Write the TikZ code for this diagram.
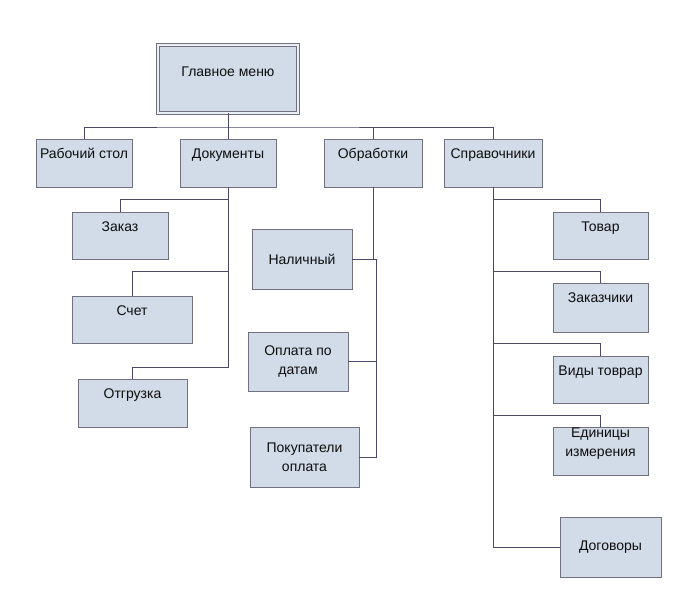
\documentclass[tikz,border=0pt]{standalone}
\usepackage{fontspec}
\setmainfont{Liberation Sans}
\usetikzlibrary{positioning}
\definecolor{boxfill}{RGB}{209,220,232}
\definecolor{boxline}{RGB}{112,112,128}
\definecolor{wirecol}{RGB}{74,74,104}
\tikzset{every node/.style={font=\fontsize{14}{19}\selectfont, text=black!95},
  box/.style={draw=boxline, fill=boxfill, line width=0.9pt, inner sep=0pt, align=center},
  lbl/.style={anchor=base, inner sep=0pt, align=center},
  wire/.style={draw=wirecol, line width=1pt}}

\begin{document}
\begin{tikzpicture}[x=1pt,y=-1pt]
  \useasboundingbox (0,0) rectangle (685,606);
  % connection points
  \coordinate (bus)  at (228,127);
  \coordinate (rail) at (376,259);
  % top level
  \node[box, minimum width=140pt, minimum height=68pt, double=boxfill!45!white, double distance=2.4pt] (main) at (228,79) {};
  \node[lbl] (main-t) at ([yshift=-32pt]main.north) {Главное меню};
  \node[box, minimum width=96pt, minimum height=48pt] (rab) at (84,163) {};
  \node[box, minimum width=96pt, minimum height=48pt] (dok) at (228,163) {};
  \node[box, minimum width=98pt, minimum height=48pt] (obr) at (373,163) {};
  \node[box, minimum width=98pt, minimum height=48pt] (spr) at (493,163) {};
  \node[lbl] (rab-t) at ([yshift=-20pt]rab.north) {Рабочий стол};
  \node[lbl] (dok-t) at ([yshift=-20pt]dok.north) {Документы};
  \node[lbl] (obr-t) at ([yshift=-20pt]obr.north) {Обработки};
  \node[lbl] (spr-t) at ([yshift=-20pt]spr.north) {Справочники};
  % documents
  \node[box, minimum width=96pt, minimum height=47pt] (zakaz) at (120,235.5) {};
  \node[box, minimum width=120pt, minimum height=47pt] (schet) at (132,319.5) {};
  \node[box, minimum width=109pt, minimum height=48pt] (otgr) at (132.5,403) {};
  \node[lbl] (zakaz-t) at ([yshift=-20pt]zakaz.north) {Заказ};
  \node[lbl] (schet-t) at ([yshift=-20pt]schet.north) {Счет};
  \node[lbl] (otgr-t) at ([yshift=-20pt]otgr.north) {Отгрузка};
  % processing
  \node[box, minimum width=100pt, minimum height=60pt] (nal) at (302,259) {Наличный};
  \node[box, minimum width=100pt, minimum height=59pt] (opl) at (298,361.5) {Оплата по\\датам};
  \node[box, minimum width=109pt, minimum height=60pt] (pok) at (304.5,457) {Покупатели\\оплата};
  % reference books
  \node[box, minimum width=95pt, minimum height=47pt] (tov) at (600.5,235.5) {};
  \node[box, minimum width=95pt, minimum height=49pt] (zakch) at (600.5,307.5) {};
  \node[box, minimum width=95pt, minimum height=47pt] (vidy) at (600.5,379.5) {};
  \node[box, minimum width=95pt, minimum height=48pt] (ed) at (600.5,451) {};
  \node[box, minimum width=101pt, minimum height=60pt] (dog) at (610.5,547) {Договоры};
  \node[lbl] (tov-t) at ([yshift=-20pt]tov.north) {Товар};
  \node[lbl] (zakch-t) at ([yshift=-20pt]zakch.north) {Заказчики};
  \node[lbl] (vidy-t) at ([yshift=-20pt]vidy.north) {Виды товрар};
  \node[lbl, anchor=north] (ed-t) at ([yshift=-1pt]ed.north) {Единицы\\измерения};
  % wires
  \draw[wire] (main.south) -- (bus);
  \draw[wire] (rab.north) |- (bus) -| (spr.north);
  \draw[wire] (dok.north) -- (dok.north |- bus);
  \draw[wire] (obr.north) -- (obr.north |- bus);
  \draw[wire] (dok.south) -- ++(0,12) -| (zakaz.north);
  \draw[wire] (dok.south) -- ++(0,84) -| (schet.north);
  \draw[wire] (dok.south) -- ++(0,180) -| (otgr.north);
  \draw[wire] (obr.south) -- (obr.south |- rail);
  \draw[wire] (nal.east) -- (rail) |- (pok.east);
  \draw[wire] (opl.east) -- (opl.east -| rail);
  \draw[wire] (spr.south) |- (dog.west);
  \draw[wire] (spr.south) -- ++(0,12) -| (tov.north);
  \draw[wire] (spr.south) -- ++(0,84) -| (zakch.north);
  \draw[wire] (spr.south) -- ++(0,156) -| (vidy.north);
  \draw[wire] (spr.south) -- ++(0,228) -| (ed.north);
\end{tikzpicture}
\end{document}
